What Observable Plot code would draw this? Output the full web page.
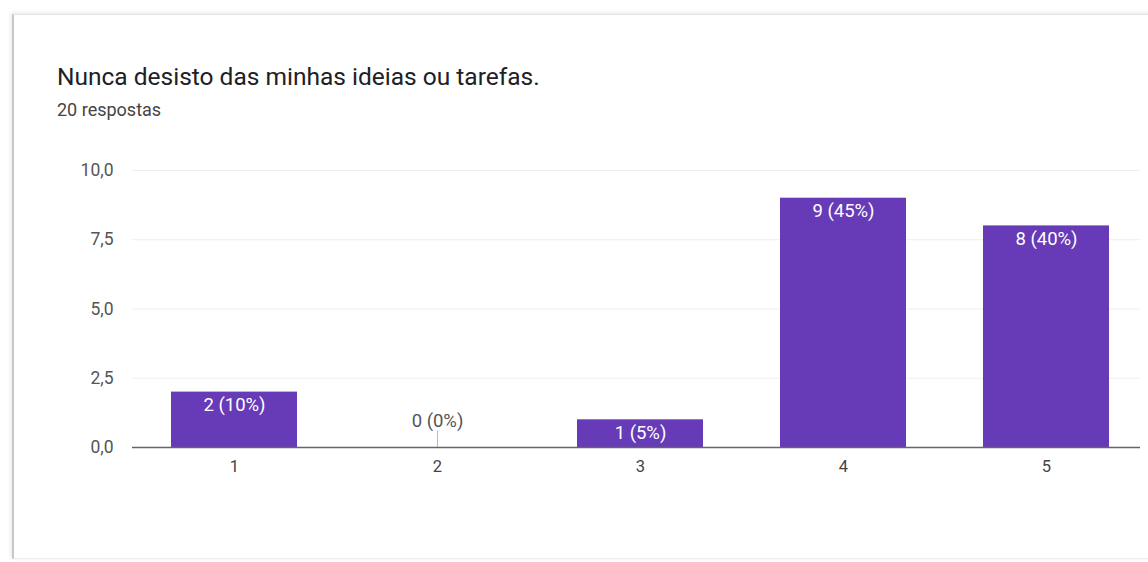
<!DOCTYPE html>
<html><head><meta charset="utf-8">
<script src="https://cdn.jsdelivr.net/npm/d3@7"></script>
<script src="https://cdn.jsdelivr.net/npm/@observablehq/plot@0.6"></script>
<style>
html,body{margin:0;padding:0;background:#fff;width:1148px;height:562px;overflow:hidden;font-family:Roboto,"Noto Sans",sans-serif;}
#card{position:absolute;left:12px;top:14px;width:1200px;height:543px;border-left:2px solid #c8c8c8;border-top:1px solid #e4e4e4;border-bottom:1px solid #eeeeee;box-shadow:-1px -1px 4px rgba(0,0,0,0.10);}
#title{position:absolute;left:57px;top:65px;font-size:24.5px;line-height:1;color:#202124;white-space:nowrap;}
#sub{position:absolute;left:57px;top:101px;font-size:18px;line-height:1;color:#444;white-space:nowrap;}
#chart{position:absolute;left:0;top:130px;}
</style></head>
<body>
<div id="card"></div>
<div id="title">Nunca desisto das minhas ideias ou tarefas.</div>
<div id="sub">20 respostas</div>
<div id="chart"></div>
<script>
const categories = ["1","2","3","4","5"];
const counts = [2,0,1,9,8];
const percents = [10,0,5,45,40];
const yTicks = [0,2.5,5,7.5,10];

const data = categories.map((c,i)=>({cat:c, n:counts[i], label:`${counts[i]} (${percents[i]}%)`}));
const fmt = d => d.toFixed(1).replace(".", ",");

const chart = Plot.plot({
  width:1148, height:432,
  marginLeft:132, marginRight:8, marginTop:40, marginBottom:115,
  style:{fontFamily:"Roboto, sans-serif", fontSize:"16px", color:"#444", background:"transparent"},
  x:{domain:categories, range:[132.5,1147.5], paddingInner:0.38, paddingOuter:0.19, label:null},
  y:{domain:[0,10], label:null},
  marks:[
    Plot.ruleY(yTicks.filter(d=>d>0), {stroke:"#eeeeee", strokeWidth:1}),
    Plot.axisY({ticks:yTicks, tickFormat:fmt, tickSize:0, tickPadding:19, fontSize:17.5, fill:"#555"}),
    Plot.axisX({tickSize:0, tickPadding:13, fontSize:16.5, fill:"#444"}),
    Plot.barY(data, {x:"cat", y:"n", fill:"#673ab7"}),
    Plot.ruleX(data.filter(d=>d.n===0), {x:"cat", y1:0, y2:0.6, stroke:"#bbb", strokeWidth:1}),
    Plot.ruleY([0], {stroke:"#666", strokeWidth:1.3}),
    Plot.text(data.filter(d=>d.n>0), {x:"cat", y:"n", text:"label", fill:"white", fontSize:18.5, lineAnchor:"top", dy:6}),
    Plot.text(data.filter(d=>d.n===0), {x:"cat", y:"n", text:"label", fill:"#555", fontSize:18.5, lineAnchor:"bottom", dy:-21})
  ]
});
document.getElementById("chart").appendChild(chart);
</script>
</body></html>
